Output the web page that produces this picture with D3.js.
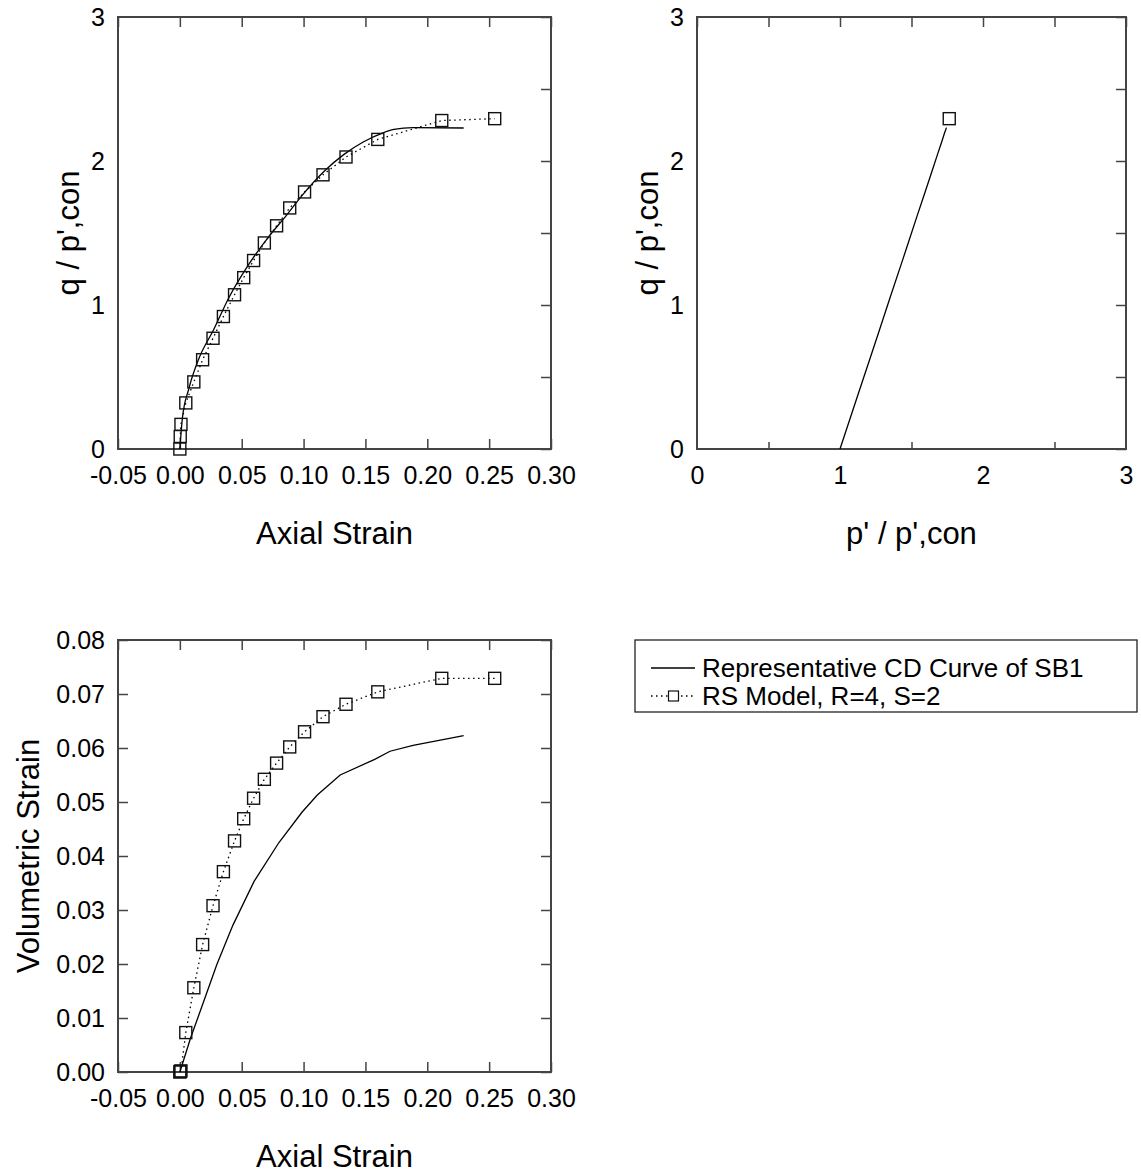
<!DOCTYPE html>
<head>
<meta charset="utf-8">
<script src="https://d3js.org/d3.v7.min.js"></script>
<style>
  body { margin: 0; background: #fff; }
  svg { font-family: "Liberation Sans", Arial, sans-serif; }
  .tick line { stroke: #444; stroke-width: 1.5; }
  .tick text { font-size: 25px; fill: #000; }
  .title { font-size: 31px; fill: #000; }
  .legend text { font-size: 26px; fill: #000; }
</style>
</head>
<body>
<script>
  // RS Model, R=4, S=2 (markers)
  var rsAxial = [0, 0.0003, 0.0009, 0.0048, 0.0113, 0.0184, 0.0268, 0.0352, 0.0442, 0.0516,
                 0.0596, 0.0683, 0.0782, 0.0888, 0.1008, 0.1157, 0.1343, 0.16, 0.2117, 0.2545];
  var rsQ = [0, 0.087, 0.171, 0.32, 0.466, 0.62, 0.769, 0.92, 1.071, 1.19,
             1.309, 1.431, 1.55, 1.674, 1.785, 1.904, 2.028, 2.15, 2.281, 2.294];
  var rsVol = [0, 0.0001, 0.0002, 0.0073, 0.0156, 0.0236, 0.0308, 0.0371, 0.0428, 0.0469,
               0.0507, 0.0542, 0.0572, 0.0602, 0.063, 0.0658, 0.0681, 0.0704, 0.0729, 0.0729];
  var rsEndP = [1.764];
  var rsEndQ = [2.294];

  // Representative CD curve of SB1 (solid)
  var cdAxialQ = [0, 0.002, 0.0073, 0.015, 0.0274, 0.0398, 0.0553, 0.0708, 0.0863, 0.0987,
                  0.1173, 0.1327, 0.1482, 0.1637, 0.173, 0.1885, 0.2294];
  var cdQ = [0, 0.21, 0.42, 0.62, 0.83, 1.054, 1.277, 1.463, 1.624, 1.76,
             1.934, 2.046, 2.132, 2.194, 2.219, 2.232, 2.229];
  var cdP = [1.0, 1.07, 1.14, 1.207, 1.277, 1.351, 1.426, 1.488, 1.541, 1.587,
             1.645, 1.682, 1.711, 1.731, 1.74, 1.744, 1.743];
  var cdAxialV = [0, 0.0088, 0.0181, 0.0299, 0.0429, 0.06, 0.0801, 0.0987, 0.1111, 0.1296,
                  0.1575, 0.1699, 0.1885, 0.2294];
  var cdVol = [0, 0.0064, 0.0123, 0.0199, 0.0272, 0.0353, 0.0425, 0.0481, 0.0513, 0.055,
               0.0579, 0.0594, 0.0605, 0.0623];

  var strainTicks = [-0.05, 0, 0.05, 0.1, 0.15, 0.2, 0.25, 0.3];
  var qTicks = [0, 0.5, 1, 1.5, 2, 2.5, 3];
  var qMinor = [0.5, 1.5, 2.5];
  var qLabels = [0, 1, 2, 3];
  var volTicks = [0, 0.01, 0.02, 0.03, 0.04, 0.05, 0.06, 0.07, 0.08];
  var legendLabels = ["Representative CD Curve of SB1", "RS Model, R=4, S=2"];

  var svg = d3.select("body").append("svg")
      .attr("width", 1141)
      .attr("height", 1175);

  function zip(a, b) { return a.map(function(v, i) { return [v, b[i]]; }); }

  function panel(o) {
    var w = o.w, h = o.h;
    var g = svg.append("g").attr("transform", "translate(" + o.x + "," + o.y + ")");
    var x = d3.scaleLinear().domain(o.xd).range([0, w]);
    var y = d3.scaleLinear().domain(o.yd).range([h, 0]);

    // bottom tick marks, then the labels on their own
    g.append("g").attr("transform", "translate(0," + h + ")")
      .call(d3.axisBottom(x).tickValues(o.xtBottom || o.xt).tickSizeInner(o.xtBottom ? -7 : -10)
        .tickSizeOuter(0).tickFormat(""));
    g.append("g").attr("transform", "translate(0," + h + ")")
      .call(d3.axisBottom(x).tickValues(o.xl).tickSize(0).tickPadding(17).tickFormat(o.xf));
    g.append("g")
      .call(d3.axisTop(x).tickValues(o.xt).tickSizeInner(-10).tickSizeOuter(0).tickFormat(""));
    g.append("g")
      .call(d3.axisLeft(y).tickValues(o.yt).tickSizeInner(o.leftTicks ? -10 : 0).tickSizeOuter(0).tickPadding(13)
        .tickFormat(function(d) { return o.yl.indexOf(d) >= 0 ? o.yf(d) : ""; }));
    g.append("g").attr("transform", "translate(" + w + ",0)")
      .call(d3.axisRight(y).tickValues(o.yt).tickSizeInner(-10).tickSizeOuter(0).tickFormat(""));
    g.selectAll(".domain").remove();

    g.append("rect").attr("width", w).attr("height", h)
      .attr("fill", "none").attr("stroke", "#444").attr("stroke-width", 2);

    o.series.forEach(function(s) {
      var pts = zip(s.x, s.y);
      var line = d3.line().curve(s.curve || d3.curveLinear)
        .x(function(d) { return x(d[0]); }).y(function(d) { return y(d[1]); });
      if (s.line) {
        g.append("path").datum(pts).attr("d", line)
          .attr("fill", "none").attr("stroke", "#000").attr("stroke-width", 1.3)
          .attr("stroke-dasharray", s.dash || null);
      }
      if (s.marker) {
        g.selectAll(null).data(pts).enter().append("rect")
          .attr("x", function(d) { return x(d[0]) - 6; })
          .attr("y", function(d) { return y(d[1]) - 6; })
          .attr("width", 12).attr("height", 12)
          .attr("fill", "none").attr("stroke", "#111").attr("stroke-width", 1.4);
      }
    });

    g.append("text").attr("class", "title")
      .attr("x", w / 2).attr("y", h + 95).attr("text-anchor", "middle").text(o.xTitle);
    g.append("text").attr("class", "title")
      .attr("transform", "translate(" + o.yTitleX + "," + h / 2 + ") rotate(-90)")
      .attr("text-anchor", "middle").attr("dy", "0.35em").text(o.yTitle);
  }

  // plain hyphen for negatives, like the original
  var fmt2 = function(d) { return d3.format(".2f")(d).replace("\u2212", "-"); };

  panel({
    x: 118, y: 17, w: 433, h: 432,
    xd: [-0.05, 0.3], yd: [0, 3],
    xt: strainTicks, xl: strainTicks, xf: fmt2,
    yt: qTicks, yl: qLabels, yf: d3.format("d"),
    xTitle: "Axial Strain", yTitle: "q / p',con", yTitleX: -50,
    series: [
      { x: cdAxialQ, y: cdQ, line: true, curve: d3.curveMonotoneX },
      { x: rsAxial, y: rsQ, line: true, dash: "1.5,3.5", marker: true }
    ]
  });

  panel({
    x: 697, y: 17, w: 429, h: 432,
    xd: [0, 3], yd: [0, 3],
    xt: qTicks, xtBottom: qMinor, xl: qLabels, xf: d3.format("d"),
    yt: qTicks, yl: qLabels, yf: d3.format("d"),
    xTitle: "p' / p',con", yTitle: "q / p',con", yTitleX: -50,
    series: [
      { x: cdP, y: cdQ, line: true },
      { x: rsEndP, y: rsEndQ, marker: true }
    ]
  });

  panel({
    x: 118, y: 640, w: 433, h: 432,
    xd: [-0.05, 0.3], yd: [0, 0.08],
    xt: strainTicks, xl: strainTicks, xf: fmt2,
    yt: volTicks, yl: volTicks, yf: fmt2, leftTicks: true,
    xTitle: "Axial Strain", yTitle: "Volumetric Strain", yTitleX: -90,
    series: [
      { x: cdAxialV, y: cdVol, line: true },
      { x: rsAxial, y: rsVol, line: true, dash: "1.5,3.5", marker: true }
    ]
  });

  // legend
  var lg = svg.append("g").attr("class", "legend").attr("transform", "translate(635,640)");
  lg.append("rect").attr("width", 502).attr("height", 72)
    .attr("fill", "none").attr("stroke", "#222").attr("stroke-width", 1.3);
  legendLabels.forEach(function(t, i) {
    var yy = 28 + i * 28;
    lg.append("line").attr("x1", 16).attr("x2", 60).attr("y1", yy).attr("y2", yy)
      .attr("stroke", "#000").attr("stroke-width", 1.3)
      .attr("stroke-dasharray", i === 1 ? "1.5,3.5" : null);
    if (i === 1) {
      lg.append("rect").attr("x", 33.5).attr("y", yy - 5).attr("width", 10).attr("height", 10)
        .attr("fill", "#fff").attr("stroke", "#111").attr("stroke-width", 1.2);
    }
    lg.append("text").attr("x", 67).attr("y", yy).attr("dy", "0.35em").text(t);
  });
</script>
</body>
